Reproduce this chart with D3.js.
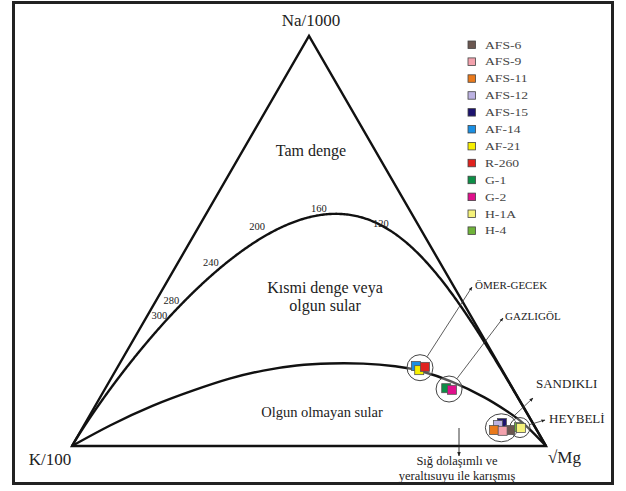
<!DOCTYPE html>
<html><head><meta charset="utf-8">
<script src="https://cdn.jsdelivr.net/npm/d3@7"></script>
<style>
body{margin:0;background:#fff}
svg{display:block}
</style>
</head><body>
<svg id="chart" width="626" height="491" font-family="'Liberation Serif', 'Times New Roman', 'DejaVu Serif', serif"></svg>
<script>
// Samples, legend colours and compositions (% Na/1000, % K/100, % √Mg)
const samples = ["AFS-6","AFS-9","AFS-11","AFS-12","AFS-15","AF-14","AF-21","R-260","G-1","G-2","H-1A","H-4"];
const colors  = ["#6b5750","#f3a2ad","#ea7a1c","#bcb2e2","#1c136e","#1a8fe3","#f7ef00","#e0221e","#0d8f47","#e0108c","#f5f27a","#6fb33a"];
const naPct = [3.9, 3.7, 3.9, 5.1, 5.6, 19.5, 18.5, 19.3, 14.1, 13.7, 4.4, 4.6];
const kPct  = [5.6, 7.3, 9.0, 7.6, 6.5, 17.7, 17.5, 15.9, 14.0, 13.0, 3.1, 3.4];
const mgPct = [90.5, 89.0, 87.1, 87.3, 87.9, 62.8, 64.0, 64.8, 71.9, 73.3, 92.5, 92.0];
// order in which overlapping squares are painted
const paintOrder = ["AFS-15","AFS-12","AFS-6","AFS-11","AFS-9","H-4","H-1A","AF-14","AF-21","R-260","G-1","G-2"];

// Sites (encircled sample groups)
const siteNames   = ["ÖMER-GECEK","GAZLIGÖL","SANDIKLI","HEYBELİ"];
const siteMembers = [["AF-14","AF-21","R-260"],["G-1","G-2"],["AFS-6","AFS-9","AFS-11","AFS-12","AFS-15"],["H-1A","H-4"]];

// Temperature labels on the full equilibrium line (°C)
const isoLabels = [120, 160, 200, 240, 280, 300];

// Boundary of immature waters (% Na/1000, % K/100, % √Mg)
const immNa = [0, 5.1, 10.0, 13.7, 16.6, 18.5, 19.8, 20.2, 20.2, 19.5, 18.5, 15.9, 11.7, 8.5, 5.9, 0];
const immK  = [100, 89.5, 78.0, 67.3, 58.4, 50.4, 42.7, 35.5, 28.5, 21.7, 17.3, 12.0, 6.6, 4.0, 1.9, 0];
const immMg = [0, 5.4, 12.0, 19.0, 25.0, 31.1, 37.5, 44.3, 51.3, 58.8, 64.2, 72.1, 81.7, 87.5, 92.2, 100];

const svg = d3.select("#chart");
const H = Math.sqrt(3) / 2;
const x = d3.scaleLinear().domain([0, 1]).range([72, 546]);
const y = d3.scaleLinear().domain([0, H]).range([446, 36]);

// ternary (na, k, mg) -> pixel position
function pos(na, k, mg) {
  const s = na + k + mg;
  const a = na / s, m = mg / s;
  return [x(m + a / 2), y(a * H)];
}

// Giggenbach (1988) full equilibrium composition at T °C
function fullEq(T) {
  const TK = T + 273.15;
  const naK = Math.pow(10, 1390 / TK - 1.75);
  const k2mg = Math.pow(10, 14.0 - 4410 / TK);
  const K = 100;
  return [naK * K / 1000, K / 100, Math.sqrt(K * K / k2mg)];
}

// frame
svg.append("rect").attr("x", 13.5).attr("y", 2.5).attr("width", 599).attr("height", 481)
  .attr("fill", "none").attr("stroke", "#222").attr("stroke-width", 3);

// arrow marker
const defs = svg.append("defs");
defs.append("marker").attr("id", "arr").attr("viewBox", "0 0 10 10").attr("refX", 9).attr("refY", 5)
  .attr("markerWidth", 5).attr("markerHeight", 5).attr("orient", "auto")
  .append("path").attr("d", "M0,1 L10,5 L0,9 Z").attr("fill", "#222");

const line = d3.line();

// triangle
const vA = pos(1, 0, 0), vK = pos(0, 1, 0), vM = pos(0, 0, 1);
svg.append("path").attr("d", line([vK, vA, vM]) + "Z")
  .attr("fill", "none").attr("stroke", "#111").attr("stroke-width", 2.4).attr("stroke-linejoin", "miter");

// full equilibrium line
const temps = d3.range(-60, 1001, 1);
const eqPts = [vM].concat(temps.map(t => pos(...fullEq(t)))).concat([vK]);
svg.append("path").attr("d", line(eqPts)).attr("fill", "none").attr("stroke", "#111").attr("stroke-width", 2.4);

// immature water boundary
const immPts = immNa.map((d, i) => pos(d, immK[i], immMg[i]));
svg.append("path").attr("d", d3.line().curve(d3.curveBasis)(immPts))
  .attr("fill", "none").attr("stroke", "#111").attr("stroke-width", 2.4);

const txt = (px, py, s, size, anchor) => svg.append("text").attr("x", px).attr("y", py)
  .attr("text-anchor", anchor || "middle").attr("font-size", size).attr("fill", "#222").text(s);

// temperature labels
const labOff = {120: [7, 5], 160: [-1, -3], 200: [-9, -5], 240: [-8, -3], 280: [-10, 0], 300: [-7, -1]};
isoLabels.forEach(t => {
  const p = pos(...fullEq(t));
  txt(p[0] + labOff[t][0], p[1] + labOff[t][1], t, 10.5);
});

// axis vertex labels
txt(vA[0] + 2, 26, "Na/1000", 17);
txt(vK[0] - 22, 465, "K/100", 17);
txt(vM[0] + 2, 463, "√Mg", 17, "start");

// field names
txt(311, 156, "Tam denge", 16);
txt(325, 293, "Kısmi denge veya", 16);
txt(325, 311, "olgun sular", 16);
txt(322, 417, "Olgun olmayan sular", 14.5);

// mixing note with downward arrow
svg.append("line").attr("x1", 459).attr("y1", 428).attr("x2", 459).attr("y2", 456)
  .attr("stroke", "#222").attr("stroke-width", 0.9).attr("marker-end", "url(#arr)");
txt(457, 465, "Sığ dolaşımlı ve", 12.5);
txt(457, 479.5, "yeraltısuyu ile karışmış", 12.5);

// sample positions
const P = {};
samples.forEach((s, i) => { P[s] = pos(naPct[i], kPct[i], mgPct[i]); });

// site circles, arrows and names
const siteR = [[13, 13], [13, 13], [16, 14], [10, 10]];
const siteText = [[475, 289], [505, 320], [536, 388], [549, 423]];
const siteSize = [11, 11, 13, 13];
const siteTip = [[472, 287], [503, 318], [533, 398], [545, 420]];
siteNames.forEach((n, i) => {
  const mem = siteMembers[i].map(s => P[s]);
  const cx = d3.mean(mem, d => d[0]), cy = d3.mean(mem, d => d[1]);
  svg.append("ellipse").attr("cx", cx).attr("cy", cy).attr("rx", siteR[i][0]).attr("ry", siteR[i][1])
    .attr("fill", "rgba(255,255,255,0.3)").attr("stroke", "#444").attr("stroke-width", 1);
  const [tx, ty] = siteTip[i];
  const dx = tx - cx, dy = ty - cy, L = Math.hypot(dx, dy);
  const ex = dx / L, ey = dy / L;
  const r = 1 / Math.sqrt((ex * ex) / (siteR[i][0] ** 2) + (ey * ey) / (siteR[i][1] ** 2));
  svg.append("line").attr("x1", cx + ex * r).attr("y1", cy + ey * r).attr("x2", tx).attr("y2", ty)
    .attr("stroke", "#333").attr("stroke-width", 0.8).attr("marker-end", "url(#arr)");
  txt(siteText[i][0], siteText[i][1], n, siteSize[i], "start");
});

// sample squares
const SQ = 9;
paintOrder.forEach(s => {
  const i = samples.indexOf(s);
  svg.append("rect").attr("x", P[s][0] - SQ / 2).attr("y", P[s][1] - SQ / 2).attr("width", SQ).attr("height", SQ)
    .attr("fill", colors[i]).attr("stroke", "#555").attr("stroke-width", 0.8);
});

// legend
const lg = svg.append("g").attr("transform", "translate(468,41)");
samples.forEach((s, i) => {
  const g = lg.append("g").attr("transform", `translate(0,${i * 16.9})`);
  g.append("rect").attr("width", 7.5).attr("height", 7.5).attr("fill", colors[i]).attr("stroke", "#444").attr("stroke-width", 0.8);
  g.append("text").attr("transform", "translate(17,7.5) scale(1.3,1)").attr("font-size", 10.5)
    .attr("fill", "#444").text(s);
});
</script>
</body></html>
